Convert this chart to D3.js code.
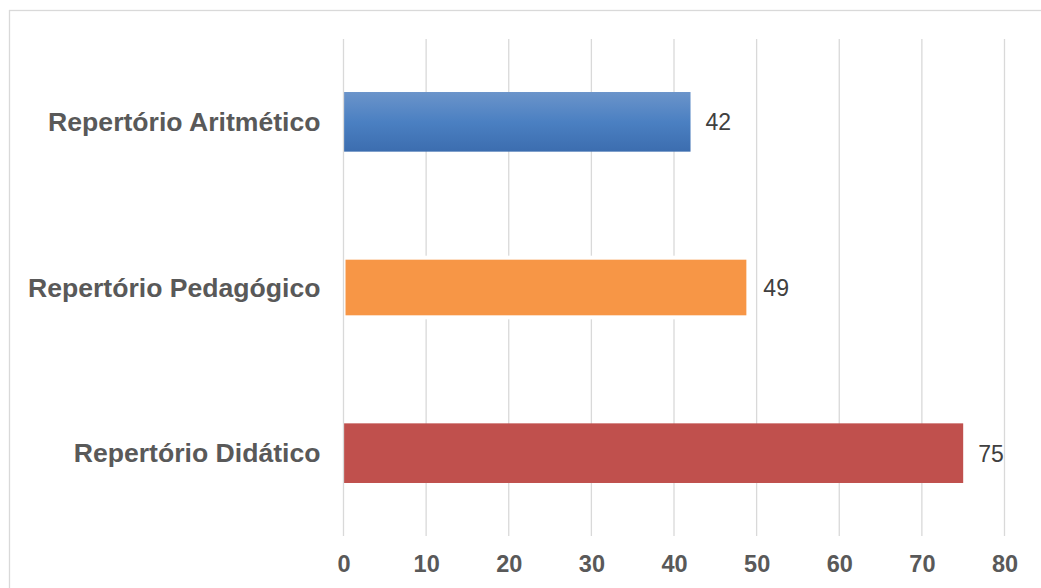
<!DOCTYPE html>
<html>
<head>
<meta charset="utf-8">
<script src="https://cdn.jsdelivr.net/npm/d3@7/dist/d3.min.js"></script>
<style>
  html, body { margin: 0; padding: 0; background: #fff; }
  svg { display: block; font-family: "Liberation Sans", Arial, sans-serif; }
</style>
</head>
<body>
<svg id="chart" width="1041" height="588"></svg>
<script>
const categories = ['Repertório Aritmético', 'Repertório Pedagógico', 'Repertório Didático'];
const values = [42, 49, 75];
const colors = ['url(#blue-grad)', '#f79646', '#c0504d'];
const ticks = [0, 10, 20, 30, 40, 50, 60, 70, 80];

const W = 1041;
const H = 588;
const margin = { top: 39, right: 36.5, bottom: 52, left: 343.5 };
const innerW = W - margin.left - margin.right;
const innerH = H - margin.top - margin.bottom;

const svg = d3.select('#chart');

// chart frame
svg.append('rect')
  .attr('x', 9.5).attr('y', 10.5)
  .attr('width', 1040).attr('height', 600)
  .attr('fill', '#fff')
  .attr('stroke', '#d9d9d9')
  .attr('stroke-width', 1.3);

const defs = svg.append('defs');
const grad = defs.append('linearGradient')
  .attr('id', 'blue-grad')
  .attr('x1', 0).attr('y1', 0).attr('x2', 0).attr('y2', 1);
grad.append('stop').attr('offset', '0%').attr('stop-color', '#6b94ca');
grad.append('stop').attr('offset', '50%').attr('stop-color', '#4b80c2');
grad.append('stop').attr('offset', '100%').attr('stop-color', '#3c6daf');

const x = d3.scaleLinear().domain([0, 80]).range([0, innerW]);
const y = d3.scaleBand()
  .domain(categories)
  .range([0, innerH])
  .paddingInner(0.64)
  .paddingOuter(0.32);

const g = svg.append('g').attr('transform', `translate(${margin.left},${margin.top})`);

// vertical gridlines
g.append('g')
  .attr('class', 'grid')
  .selectAll('line').data(ticks.filter(t => t > 0)).join('line')
  .attr('x1', d => x(d)).attr('x2', d => x(d))
  .attr('y1', 0).attr('y2', innerH)
  .attr('stroke', '#d9d9d9')
  .attr('stroke-width', 1.3);

// bars
g.selectAll('rect.bar').data(values).join('rect')
  .attr('class', 'bar')
  .attr('x', 0)
  .attr('y', (d, i) => y(categories[i]))
  .attr('width', d => x(d))
  .attr('height', y.bandwidth())
  .attr('fill', (d, i) => colors[i])
  .attr('stroke', (d, i) => i === 1 ? '#fff' : 'none')
  .attr('stroke-width', 4);

// zero line
g.append('line')
  .attr('x1', x(0)).attr('x2', x(0))
  .attr('y1', 0).attr('y2', innerH)
  .attr('stroke', '#d9d9d9')
  .attr('stroke-width', 1.3);

// value labels
g.selectAll('text.value').data(values).join('text')
  .attr('class', 'value')
  .attr('x', d => x(d) + 15)
  .attr('y', (d, i) => y(categories[i]) + y.bandwidth() / 2 + 8.6)
  .attr('fill', '#404040')
  .attr('font-size', 23)
  .text(d => d);

// category axis
g.append('g')
  .call(d3.axisLeft(y).tickSize(0).tickPadding(23))
  .call(axis => axis.select('.domain').remove())
  .call(axis => axis.selectAll('text')
    .attr('fill', '#595959')
    .attr('font-size', 26.6)
    .attr('font-weight', 'bold')
    .attr('font-family', '"Liberation Sans", Arial, sans-serif')
    .attr('dy', '0.35em'));

// value axis
g.append('g')
  .attr('transform', `translate(0,${innerH})`)
  .call(d3.axisBottom(x).tickValues(ticks).tickSize(0).tickPadding(19))
  .call(axis => axis.select('.domain').remove())
  .call(axis => axis.selectAll('text')
    .attr('fill', '#595959')
    .attr('font-size', 23.5)
    .attr('font-weight', 'bold')
    .attr('font-family', '"Liberation Sans", Arial, sans-serif'));
</script>
</body>
</html>
